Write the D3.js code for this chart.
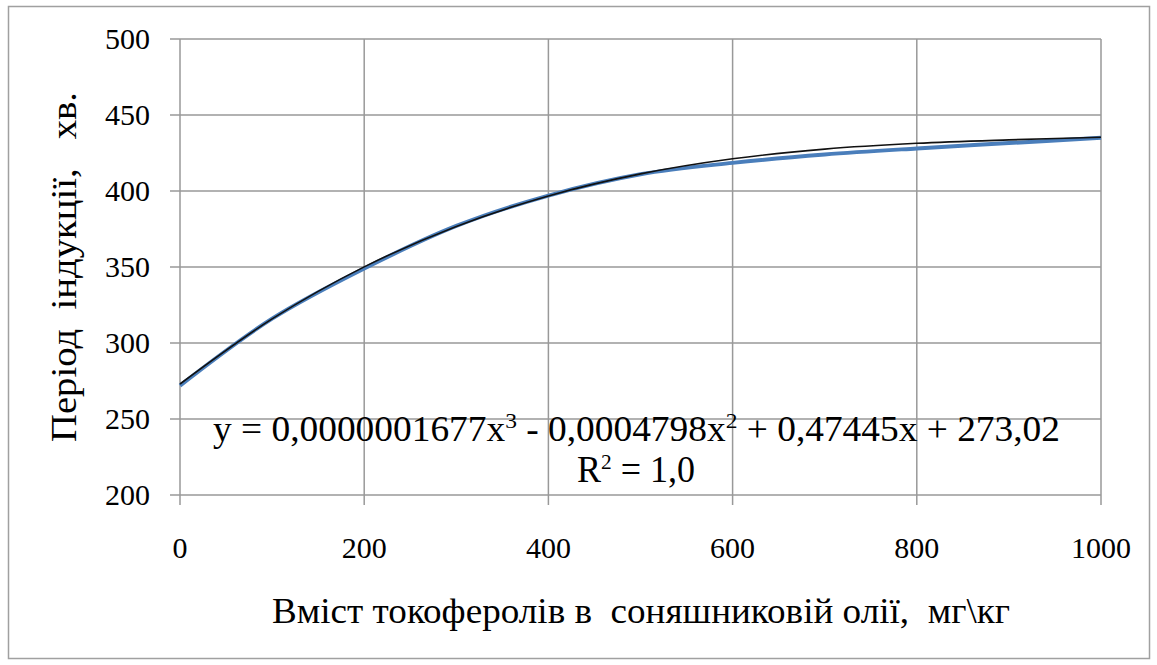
<!DOCTYPE html>
<html><head><meta charset="utf-8">
<script src="https://cdn.jsdelivr.net/npm/d3@7"></script>
<style>body{margin:0;background:#fff}svg{display:block}</style>
</head><body><svg id="c" width="1157" height="665"></svg>
<script>
const xValues = [0,100,200,300,400,500,600,700,800,900,1000];
const dataValues = [272,316,349,377,397,411,418.5,424,428,431.5,435];
const trendValues = [273.02,315.83,350.06,376.70,396.76,411.26,421.19,427.55,431.37,433.64,435.37];
const xTicks = [0,200,400,600,800,1000];
const yTicks = [200,250,300,350,400,450,500];
const xTitle = "Вміст токоферолів в  соняшниковій олії,  мг\\кг";
const yTitle = "Період  індукції,   хв.";

const FONT = "Times New Roman, Liberation Serif, Tinos, Noto Serif, DejaVu Serif, serif";
const svg = d3.select("#c").attr("font-family", FONT);
svg.append("rect").attr("x",8.5).attr("y",6.5).attr("width",1141).attr("height",652)
  .attr("fill","#fff").attr("stroke","#a0a0a0").attr("stroke-width",1.5);

const x = d3.scaleLinear().domain([0,1000]).range([180,1101]);
const y = d3.scaleLinear().domain([200,500]).range([495,39]);

const grid = svg.append("g").attr("stroke","#999").attr("stroke-width",1.5);
yTicks.forEach(t=>grid.append("line").attr("x1",170).attr("x2",1101).attr("y1",y(t)).attr("y2",y(t)));
xTicks.forEach(t=>grid.append("line").attr("x1",x(t)).attr("x2",x(t)).attr("y1",39).attr("y2",505));

function txt(sel, fs){ return sel.attr("font-family",FONT).attr("font-size",fs).attr("fill","#000"); }

const tl = svg.append("g");
yTicks.forEach(t=>txt(tl.append("text"),30).attr("x",150).attr("y",y(t)+10).attr("text-anchor","end").text(t));
xTicks.forEach(t=>txt(tl.append("text"),30).attr("x",x(t)).attr("y",558).attr("text-anchor","middle").text(t));

const pts = xValues.map((v,i)=>[v,dataValues[i]]);
const tpts = xValues.map((v,i)=>[v,trendValues[i]]);
const line = d3.line().x(d=>x(d[0])).y(d=>y(d[1])).curve(d3.curveCatmullRom);
svg.append("path").attr("d",line(pts)).attr("fill","none").attr("stroke","#4a7ebb").attr("stroke-width",4);
svg.append("path").attr("d",line(tpts)).attr("fill","none").attr("stroke","#111").attr("stroke-width",1.6);

const eq = txt(svg.append("text"),35).attr("x",213).attr("y",441).attr("textLength",847).attr("lengthAdjust","spacingAndGlyphs");
eq.append("tspan").text("y = 0,0000001677x");
eq.append("tspan").attr("dy",-13).attr("font-size",22).text("3");
eq.append("tspan").attr("dy",13).text(" - 0,0004798x");
eq.append("tspan").attr("dy",-13).attr("font-size",22).text("2");
eq.append("tspan").attr("dy",13).text(" + 0,47445x + 273,02");
const r2 = txt(svg.append("text"),37).attr("x",577).attr("y",482).attr("textLength",118).attr("lengthAdjust","spacingAndGlyphs");
r2.append("tspan").text("R");
r2.append("tspan").attr("dy",-13).attr("font-size",22).text("2");
r2.append("tspan").attr("dy",13).text(" = 1,0");

txt(svg.append("text"),36).attr("x",272).attr("y",623).attr("textLength",738).attr("lengthAdjust","spacingAndGlyphs").style("white-space","pre").text(xTitle);
txt(svg.append("text"),35).attr("transform","translate(76,442) rotate(-90)").attr("textLength",350).attr("lengthAdjust","spacingAndGlyphs").style("white-space","pre").text(yTitle);
</script></body></html>
